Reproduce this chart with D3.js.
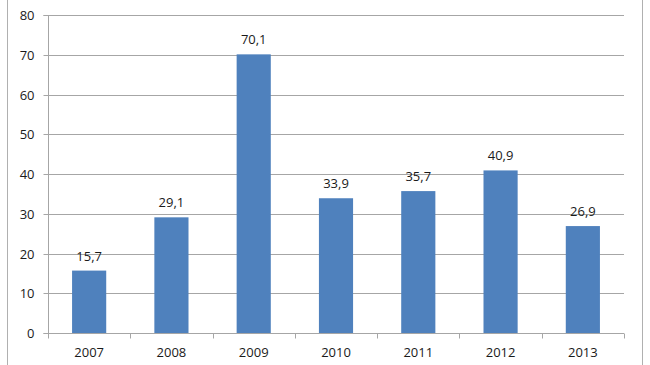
<!DOCTYPE html>
<html>
<head>
<meta charset="utf-8">
<script src="https://cdn.jsdelivr.net/npm/d3@7"></script>
<style>
  body { margin: 0; background: #fff; }
  svg { display: block; }
  text { font-family: "Open Sans", "Liberation Sans", sans-serif; font-size: 13px; fill: #1a1a1a; }
</style>
</head>
<body>
<script>
var years = ["2007", "2008", "2009", "2010", "2011", "2012", "2013"];
var values = [15.7, 29.1, 70.1, 33.9, 35.7, 40.9, 26.9];
var yTicks = [0, 10, 20, 30, 40, 50, 60, 70, 80];

var w = 650, h = 365;
var plotLeft = 48, plotRight = 624, plotTop = 15, plotBottom = 333;
var BarColor = '#4F81BD';
var GridColor = '#a6a6a6';

SVG = d3.select('body').append('svg').attr('width', w).attr('height', h);

// frame lines at sides
SVG.append('line').attr('x1', 7.5).attr('x2', 7.5).attr('y1', 0).attr('y2', h).attr('stroke', '#b0b0b0');
SVG.append('line').attr('x1', 642.5).attr('x2', 642.5).attr('y1', 0).attr('y2', h).attr('stroke', '#b0b0b0');

var x = d3.scaleBand().domain(years).range([plotLeft, plotRight]).padding(0);
var y = d3.scaleLinear().domain([0, 80]).range([plotBottom, plotTop]);

// gridlines
SVG.append('g').selectAll('line').data(yTicks.slice(1)).enter().append('line')
   .attr('x1', plotLeft).attr('x2', plotRight)
   .attr('y1', function(d) { return Math.round(y(d)) + 0.5; })
   .attr('y2', function(d) { return Math.round(y(d)) + 0.5; })
   .attr('stroke', GridColor).attr('stroke-width', 1);

// bars
var bw = x.bandwidth() * 0.415;
SVG.append('g').selectAll('rect').data(values).enter().append('rect')
   .attr('x', function(d, i) { return x(years[i]) + (x.bandwidth() - bw) / 2; })
   .attr('width', bw)
   .attr('y', function(d) { return y(d); })
   .attr('height', function(d) { return y(0) - y(d); })
   .attr('fill', BarColor);

// value labels
SVG.append('g').selectAll('text').data(values).enter().append('text')
   .attr('x', function(d, i) { return x(years[i]) + x.bandwidth() / 2; })
   .attr('y', function(d) { return y(d) - 10; })
   .attr('text-anchor', 'middle')
   .text(function(d) { return d.toFixed(1).replace('.', ','); });

// y axis
var yAxis = d3.axisLeft(y).tickValues(yTicks).tickSize(5).tickPadding(9).tickFormat(d3.format('d'));
var gy = SVG.append('g').attr('transform', 'translate(' + (plotLeft + 0.5) + ',0)').call(yAxis);
gy.select('.domain').attr('stroke', GridColor).attr('d', 'M-5,' + (plotTop + 0.5) + 'H0V' + (plotBottom + 0.5) + 'H-5');
gy.selectAll('.tick line').attr('stroke', GridColor);
gy.selectAll('.tick text').style('font-size', '13px').attr('fill', '#1a1a1a');
gy.selectAll('.tick').attr('transform', function(d) { return 'translate(0,' + (Math.round(y(d)) + 0.5) + ')'; });

// x axis
var xAxis = d3.axisBottom(x).tickSize(0).tickPadding(14);
var gx = SVG.append('g').attr('transform', 'translate(0,' + (plotBottom + 0.5) + ')').call(xAxis);
gx.select('.domain').attr('stroke', GridColor).attr('d', 'M' + plotLeft + ',0H' + plotRight);
gx.selectAll('.tick text').style('font-size', '13px').attr('fill', '#1a1a1a');
// category boundary ticks
var bounds = years.map(function(d) { return x(d); }).concat([plotRight]);
gx.append('g').selectAll('line').data(bounds).enter().append('line')
  .attr('x1', function(d) { return Math.round(d) + 0.5; })
  .attr('x2', function(d) { return Math.round(d) + 0.5; })
  .attr('y1', 0).attr('y2', 5).attr('stroke', GridColor);
</script>
</body>
</html>
